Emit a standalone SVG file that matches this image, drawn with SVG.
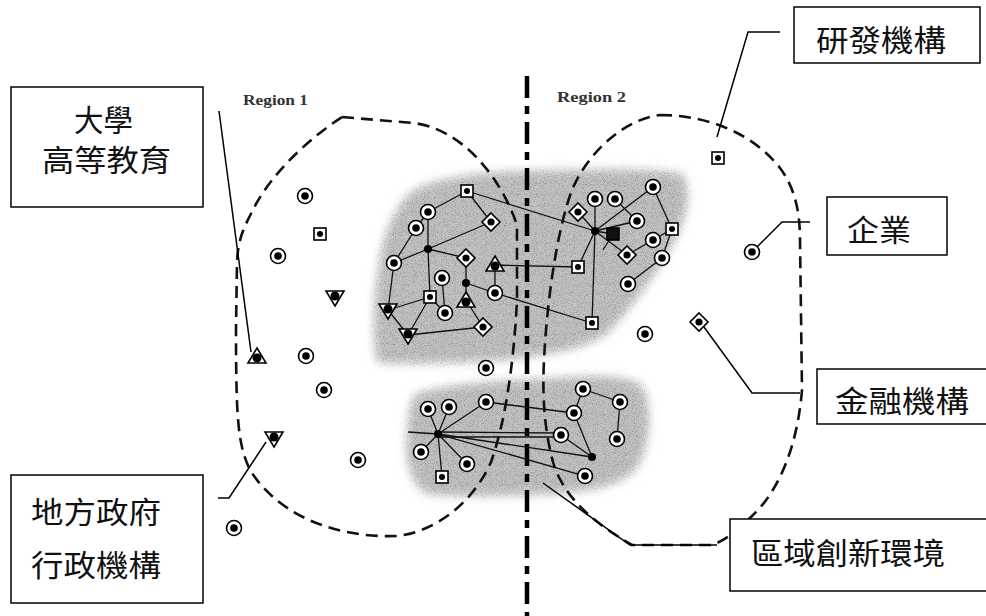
<svg xmlns="http://www.w3.org/2000/svg" xmlns:xlink="http://www.w3.org/1999/xlink" width="986" height="616" viewBox="0 0 986 616">
<style>
.box{fill:#fff;stroke:#000;stroke-width:1.5}
.lbl{font-family:"Noto Sans CJK TC","Noto Sans CJK SC",sans-serif;font-size:30px;fill:#111}
.reg{font-family:"Liberation Serif",serif;font-size:15px;font-weight:bold;fill:#333}
.lead{fill:none;stroke:#000;stroke-width:1.5}
.net{fill:none;stroke:#111;stroke-width:1.3}
.bnd{fill:none;stroke:#111;stroke-width:2.6;stroke-dasharray:12 7}
.div{fill:none;stroke:#000;stroke-width:4.5;stroke-dasharray:22 8 8 8}
.sym{fill:#fff;stroke:#000;stroke-width:1.6}
.blob{fill:#c4c4c4;filter:url(#grain)}
</style>
<defs>
<filter id="grain" x="-15%" y="-15%" width="130%" height="130%">
<feGaussianBlur in="SourceGraphic" stdDeviation="5" result="soft"/>
<feTurbulence type="fractalNoise" baseFrequency="1.1" numOctaves="1" seed="7" result="noise"/>
<feColorMatrix in="noise" type="matrix" values="0 0 0 0 0.25 0 0 0 0 0.25 0 0 0 0 0.25 2.6 0 0 0 -1.15" result="spk"/>
<feComposite in="spk" in2="soft" operator="in" result="spk2"/>
<feMerge><feMergeNode in="soft"/><feMergeNode in="spk2"/></feMerge>
</filter>
<g id="firm"><circle r="7.5" class="sym"/><circle r="3.8" fill="#000"/></g>
<g id="rd"><rect x="-6" y="-6" width="12" height="12" class="sym"/><circle r="3" fill="#000"/></g>
<g id="rdf"><rect x="-6" y="-6" width="12" height="12" fill="#111" stroke="#000" stroke-width="1.6"/></g>
<g id="fin"><polygon points="0,-9 9,0 0,9 -9,0" class="sym"/><circle r="3.6" fill="#000"/></g>
<g id="uni"><polygon points="0,-9 9,6 -9,6" class="sym"/><circle r="4.5" cy="1" fill="#000"/></g>
<g id="gov"><polygon points="0,9 9,-6 -9,-6" class="sym"/><circle r="4.5" cy="-1" fill="#000"/></g>
<g id="hub"><circle r="4" fill="#000"/></g>
</defs>
<rect width="986" height="616" fill="#fff"/>

<g id="clusters">
<path class="blob" d="M415,190 C440,178 480,172 540,171 C600,170 650,168 682,174 C692,190 688,215 672,245 C655,275 630,310 605,335 C580,350 540,356 500,360 C460,363 410,364 377,362 C372,330 374,290 382,250 C388,225 398,202 415,190 Z"/>
<path class="blob" d="M416,394 C450,384 500,381 545,379 C590,376 625,374 642,386 C652,405 650,440 640,462 C630,482 600,490 560,493 C510,496 460,497 430,494 C412,488 406,465 407,440 C408,418 410,402 416,394 Z"/>
</g>

<g id="boundaries">
<path class="bnd" d="M342,117 L413,123 C460,128 500,175 517,225 L517,300 C514,360 506,420 491,462 C472,505 432,533 396,536 C340,538 280,518 250,470 C238,445 236,420 236,330 L237,262 C238,235 247,222 256,204 C275,170 310,138 342,117 Z"/>
<path class="bnd" d="M660,115 C705,115 752,132 780,168 C795,188 800,212 800,240 L802,390 C798,440 782,488 752,516 C738,530 726,540 712,545 L632,545 C592,522 563,496 553,462 C545,432 542,400 544,360 C547,300 557,230 572,190 C585,158 620,120 660,115 Z"/>
<line class="div" x1="527" y1="76" x2="527" y2="616"/>
<text class="reg" x="243" y="105" textLength="65" lengthAdjust="spacingAndGlyphs">Region 1</text>
<text class="reg" x="557" y="102" textLength="69" lengthAdjust="spacingAndGlyphs">Region 2</text>
</g>

<g id="connectors">
<g id="net-upper">
<path class="net" d="M467,191 L428,212 M467,191 L491,222 M467,191 L595,231 M428,212 L416,228 M428,212 L428,249 M416,228 L394,263 M428,249 L394,263 M428,249 L491,222 M428,249 L430,297 M428,249 L466,258 M394,263 L388,310 M388,310 L430,297 M388,310 L408,335 M430,297 L408,335 M430,297 L445,313 M442,278 L445,313 M466,258 L466,283 M466,283 L466,300 M466,283 L495,293 M466,300 L483,327 M495,265 L495,293 M408,335 L483,327 M495,293 L592,323 M495,265 L578,267"/>
<path class="net" d="M578,212 L595,231 M595,199 L595,231 M615,199 L637,221 M653,187 L595,231 M653,187 L672,229 M595,231 L637,221 M595,231 L613,234 M595,231 L627,255 M595,231 L578,267 M595,231 L592,323 M672,229 L653,240 M653,240 L627,255 M672,229 L662,258 M662,258 L628,284 M613,234 L603,250"/>
</g>
<g id="net-lower">
<path class="net" d="M438,434 L428,409 M438,434 L449,407 M438,434 L486,402 M438,434 L421,452 M438,434 L467,464 M438,434 L442,477 M408,432 L438,434 M438,434 L592,457 M438,434 L585,476 M486,402 L574,413 M583,389 L574,413 M583,389 L620,402 M620,402 L617,439 M574,413 L592,457 M561,435 L592,457"/>
<path class="net" d="M438,432 L561,433 M438,437 L561,437"/>
</g>
<g id="leaders">
<polyline class="lead" points="219,111 251,352"/>
<polyline class="lead" points="218,498 229,498 266,442"/>
<polyline class="lead" points="780,32 748,32 717,137"/>
<polyline class="lead" points="810,222 782,222 756,248"/>
<polyline class="lead" points="704,327 752,393 800,393"/>
<polyline class="lead" points="543,483 630,545 717,545"/>
</g>
</g>

<g id="nodes">
<use id="r1-f1" href="#firm" x="305" y="196"/>
<use id="r1-rd1" href="#rd" x="320" y="234"/>
<use id="r1-f2" href="#firm" x="278" y="256"/>
<use id="r1-g1" href="#gov" x="335" y="297"/>
<use id="r1-u1" href="#uni" x="257" y="357"/>
<use id="r1-f3" href="#firm" x="306" y="356"/>
<use id="r1-f4" href="#firm" x="324" y="390"/>
<use id="r1-g2" href="#gov" x="274" y="438"/>
<use id="r1-f5" href="#firm" x="358" y="460"/>
<use id="r1-f6" href="#firm" x="234" y="528"/>
<use id="r1-f7" href="#firm" x="486" y="368"/>
<use id="r2-rd1" href="#rd" x="718" y="158"/>
<use id="r2-f1" href="#firm" x="752" y="252"/>
<use id="r2-f2" href="#firm" x="645" y="334"/>
<use id="r2-fi1" href="#fin" x="699" y="322"/>

<use id="a1" href="#rd" x="467" y="191"/>
<use id="a2" href="#firm" x="428" y="212"/>
<use id="a3" href="#firm" x="416" y="228"/>
<use id="a4" href="#fin" x="491" y="222"/>
<use id="a5" href="#hub" x="428" y="249"/>
<use id="a6" href="#firm" x="394" y="263"/>
<use id="a7" href="#fin" x="466" y="258"/>
<use id="a8" href="#uni" x="495" y="265"/>
<use id="a9" href="#firm" x="442" y="278"/>
<use id="a10" href="#hub" x="466" y="283"/>
<use id="a11" href="#uni" x="466" y="301"/>
<use id="a12" href="#rd" x="430" y="297"/>
<use id="a13" href="#firm" x="495" y="293"/>
<use id="a14" href="#firm" x="445" y="313"/>
<use id="a15" href="#gov" x="388" y="310"/>
<use id="a16" href="#gov" x="408" y="335"/>
<use id="a17" href="#fin" x="483" y="327"/>

<use id="b1" href="#fin" x="578" y="212"/>
<use id="b2" href="#firm" x="595" y="199"/>
<use id="b3" href="#firm" x="615" y="199"/>
<use id="b4" href="#firm" x="653" y="187"/>
<use id="b5" href="#hub" x="595" y="231"/>
<use id="b6" href="#firm" x="637" y="221"/>
<use id="b7" href="#rdf" x="613" y="234"/>
<use id="b8" href="#rd" x="672" y="229"/>
<use id="b9" href="#firm" x="653" y="240"/>
<use id="b10" href="#fin" x="627" y="255"/>
<use id="b11" href="#firm" x="662" y="258"/>
<use id="b12" href="#rd" x="578" y="267"/>
<use id="b13" href="#firm" x="628" y="284"/>
<use id="b14" href="#rd" x="592" y="323"/>

<use id="c1" href="#firm" x="428" y="409"/>
<use id="c2" href="#firm" x="449" y="407"/>
<use id="c3" href="#firm" x="486" y="402"/>
<use id="c4" href="#hub" x="438" y="434"/>
<use id="c5" href="#firm" x="421" y="452"/>
<use id="c6" href="#firm" x="467" y="464"/>
<use id="c7" href="#rd" x="442" y="477"/>
<use id="c8" href="#firm" x="583" y="389"/>
<use id="c9" href="#firm" x="574" y="413"/>
<use id="c10" href="#firm" x="620" y="402"/>
<use id="c11" href="#firm" x="561" y="435"/>
<use id="c12" href="#firm" x="617" y="439"/>
<use id="c13" href="#hub" x="592" y="457"/>
<use id="c14" href="#firm" x="585" y="476"/>
</g>

<g id="callout-university">
<rect class="box" x="11" y="87" width="192" height="120"/>
<text class="lbl" x="74" y="131" textLength="59" lengthAdjust="spacingAndGlyphs">大學</text>
<text class="lbl" x="42" y="171" textLength="129" lengthAdjust="spacingAndGlyphs">高等教育</text>
</g>
<g id="callout-government">
<rect class="box" x="11" y="475" width="192" height="128"/>
<text class="lbl" x="31" y="523" textLength="130" lengthAdjust="spacingAndGlyphs">地方政府</text>
<text class="lbl" x="31" y="576" textLength="130" lengthAdjust="spacingAndGlyphs">行政機構</text>
</g>
<g id="callout-rd">
<rect class="box" x="794" y="7" width="186" height="56"/>
<text class="lbl" x="816" y="51" textLength="130" lengthAdjust="spacingAndGlyphs">研發機構</text>
</g>
<g id="callout-firm">
<rect class="box" x="827" y="197" width="120" height="58"/>
<text class="lbl" x="847" y="241" textLength="64" lengthAdjust="spacingAndGlyphs">企業</text>
</g>
<g id="callout-finance">
<rect class="box" x="817" y="369" width="175" height="55"/>
<text class="lbl" x="835" y="412" textLength="134" lengthAdjust="spacingAndGlyphs">金融機構</text>
</g>
<g id="callout-milieu">
<rect class="box" x="730" y="519" width="262" height="72"/>
<text class="lbl" x="751" y="564" textLength="194" lengthAdjust="spacingAndGlyphs">區域創新環境</text>
</g>
</svg>
